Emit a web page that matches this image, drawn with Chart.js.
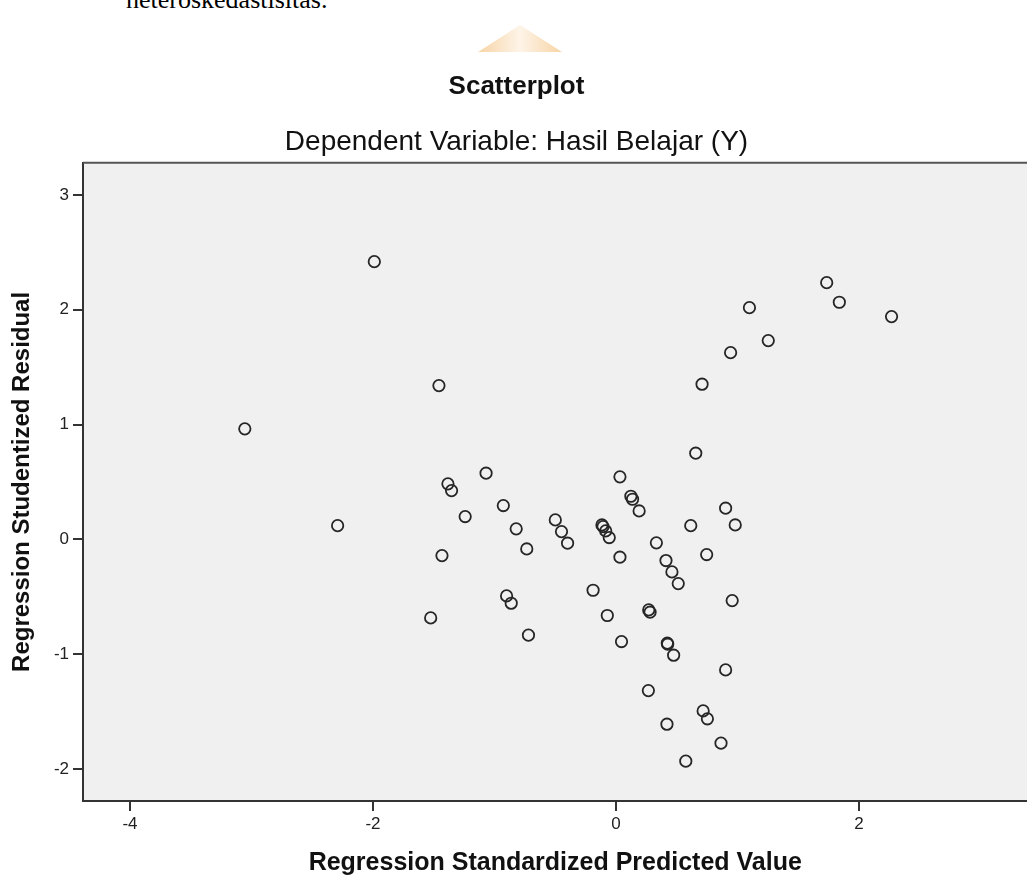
<!DOCTYPE html>
<html><head><meta charset="utf-8">
<script src="https://cdn.jsdelivr.net/npm/chart.js@4.4.1/dist/chart.umd.min.js"></script>
<style>
html,body{margin:0;padding:0;background:#fff;overflow:hidden;width:1027px;height:878px;}
#wrap{position:relative;width:1027px;height:878px;overflow:hidden;}
#chart{position:absolute;left:0;top:0;}
#note{position:absolute;left:126px;top:-13px;font:26px "Liberation Serif","Times New Roman",serif;color:#000;white-space:nowrap;line-height:26px;}
#logo{position:absolute;left:478px;top:25px;width:84px;height:27px;clip-path:polygon(50% 0,100% 100%,0 100%);background:linear-gradient(90deg,#f5c98f,#fdf1e2 50%,#f5c98f);opacity:.8}
</style></head><body>
<div id="wrap"><div id="note">heteroskedastisitas.</div><div id="logo"></div><canvas id="chart" width="1035" height="878"></canvas></div>
<script>
// Regression Standardized Predicted Value (x) and Regression Studentized Residual (y)
const predicted = [-3.055,-2.291,-1.989,-1.457,0.657,-1.069,-1.383,-1.353,0.033,0.123,
  0.137,0.191,-0.927,-1.241,0.903,0.982,0.616,-0.821,-0.499,-0.448,
  -0.398,-0.115,-0.106,-0.084,-0.055,-0.734,-1.432,0.033,0.333,0.412,
  0.461,0.513,0.747,-0.188,-0.900,-0.862,-1.525,-0.071,0.270,0.281,
  0.957,-0.720,0.046,0.423,0.426,0.475,0.903,0.267,0.718,0.753,
  0.420,0.865,0.575,1.735,1.839,2.269,1.099,1.254,0.944,0.709];
const residual = [0.962,0.119,2.419,1.339,0.750,0.576,0.483,0.424,0.544,0.375,
  0.349,0.247,0.294,0.198,0.271,0.125,0.119,0.091,0.169,0.067,
  -0.034,0.125,0.111,0.073,0.015,-0.084,-0.142,-0.156,-0.031,-0.185,
  -0.284,-0.386,-0.133,-0.444,-0.493,-0.557,-0.685,-0.664,-0.615,-0.635,
  -0.534,-0.835,-0.891,-0.905,-0.914,-1.010,-1.138,-1.318,-1.495,-1.564,
  -1.611,-1.776,-1.933,2.236,2.065,1.940,2.018,1.731,1.626,1.351];
const xTicks = [-4,-2,0,2];
const yTicks = [-2,-1,0,1,2,3];
const xRange = [-4.387, 3.388];
const yRange = [-2.28, 3.28];

const FONT = '"Liberation Sans", Arial, sans-serif';
const points = predicted.map((x,i)=>({x:x, y:residual[i]}));

const frame = {
  id:'frame',
  beforeDraw(chart){
    const {ctx, chartArea:a} = chart;
    ctx.save(); ctx.fillStyle='#f0f0f0';
    ctx.fillRect(a.left, a.top, a.right-a.left, a.bottom-a.top);
    ctx.restore();
  },
  afterDraw(chart){
    const {ctx, chartArea:a} = chart;
    ctx.save(); ctx.strokeStyle='#555'; ctx.lineWidth=2;
    ctx.beginPath(); ctx.moveTo(a.left, a.top); ctx.lineTo(a.right, a.top); ctx.stroke();
    ctx.restore();
  }
};

new Chart(document.getElementById('chart'), {
  type:'scatter',
  data:{datasets:[{data:points, pointRadius:5.7, pointHoverRadius:5.7, pointBorderWidth:1.8,
    borderColor:'#262626', backgroundColor:'rgba(0,0,0,0)', pointStyle:'circle'}]},
  options:{
    responsive:false, animation:false, devicePixelRatio:1,
    layout:{padding:{left:0,right:2,top:0,bottom:0}},
    plugins:{
      legend:{display:false}, tooltip:{enabled:false},
      title:{display:true,text:'Scatterplot',color:'#111',
        font:{family:FONT,size:26,weight:'bold',lineHeight:1.2},padding:{top:71,bottom:0}},
      subtitle:{display:true,text:'Dependent Variable: Hasil Belajar (Y)',color:'#111',
        font:{family:FONT,size:28,weight:'normal',lineHeight:1.2},padding:{top:23,bottom:4}}
    },
    scales:{
      x:{type:'linear',position:'bottom',min:xRange[0],max:xRange[1],
        afterBuildTicks:s=>{s.ticks=xTicks.map(v=>({value:v}));},
        afterFit:s=>{s.height=77;},
        grid:{display:true,drawOnChartArea:false,drawTicks:true,tickLength:10,color:'#333',lineWidth:2},
        border:{display:true,color:'#333',width:2},
        ticks:{color:'#222',font:{family:FONT,size:17},padding:3,maxRotation:0,callback:v=>String(v)},
        title:{display:true,text:'Regression Standardized Predicted Value',color:'#111',
          font:{family:FONT,size:25,weight:'bold',lineHeight:1.2},padding:{top:0,bottom:0}}
      },
      y:{type:'linear',position:'left',min:yRange[0],max:yRange[1],
        afterBuildTicks:s=>{s.ticks=yTicks.map(v=>({value:v}));},
        afterFit:s=>{s.width=83;},
        grid:{display:true,drawOnChartArea:false,drawTicks:true,tickLength:10,color:'#333',lineWidth:2},
        border:{display:true,color:'#333',width:2},
        ticks:{color:'#222',font:{family:FONT,size:17},padding:4,callback:v=>String(v)},
        title:{display:true,text:'Regression Studentized Residual',color:'#111',
          font:{family:FONT,size:24,weight:'bold',lineHeight:1.2},padding:{top:8,bottom:0}}
      }
    }
  },
  plugins:[frame]
});
</script>
</body></html>
